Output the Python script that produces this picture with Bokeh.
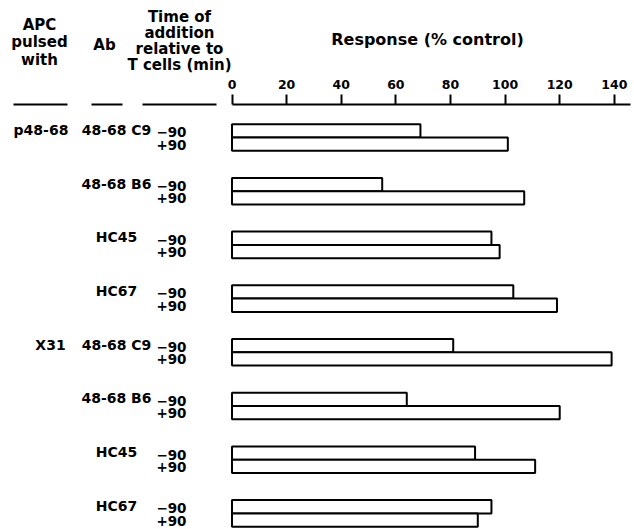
from bokeh.plotting import figure
from bokeh.models import Range1d, FixedTicker, ColumnDataSource, LinearAxis
from bokeh.core.properties import value
from bokeh.embed import file_html
from bokeh.resources import INLINE

# ---------------- data ----------------
apc_labels = ["p48-68", "X31"]
ab_labels = ["48-68 C9", "48-68 B6", "HC45", "HC67"]
time_labels = ["\u221290", "+90"]
resp_minus90 = [69, 55, 95, 103, 81, 64, 89, 95]
resp_plus90 = [101, 107, 98, 119, 139, 120, 111, 90]
ticks = [0, 20, 40, 60, 80, 100, 120, 140]
header_apc = ["APC", "pulsed", "with"]
header_ab = ["Ab"]
header_time = ["Time of", "addition", "relative to", "T cells (min)"]
axis_title = "Response (% control)"

# ---------------- layout helpers (page pixels -> data) ----------------
PXU = 2.731      # pixels per response unit
X0 = 231.5       # page x of response 0
SP = 53.7        # pixels between row pairs
MID0 = 140.0     # page y of first pair's centre line
SHIFT = 3        # move the whole drawing up a little so nothing is cut at the bottom
def dx(px):
    return (px - X0) / PXU
def dy(py):
    return (py - MID0) / SP

FONT = "DejaVu Sans"
W, H = 634, 529
AXIS_Y = 107
BH = 13.3 / SP
OFF = BH / 2
n = len(resp_minus90)

p = figure(width=W, height=H, output_backend="svg", toolbar_location=None,
           x_range=Range1d(dx(0), dx(W)), y_range=Range1d(dy(H + SHIFT), dy(SHIFT)),
           x_axis_location=None, y_axis_location=None, title=None,
           min_border_left=0, min_border_right=0, min_border_top=0, min_border_bottom=0)
p.xgrid.visible = False
p.ygrid.visible = False
p.outline_line_color = None
p.border_fill_color = "white"

ax = LinearAxis(fixed_location=dy(AXIS_Y), ticker=FixedTicker(ticks=ticks), bounds=(0, 146))
ax.axis_line_width = 2
ax.axis_line_color = "black"
ax.major_tick_line_width = 2
ax.major_tick_line_color = "black"
ax.major_tick_out = 10
ax.major_tick_in = 0
ax.minor_tick_out = 0
ax.minor_tick_in = 0
ax.major_label_text_font = FONT
ax.major_label_text_font_style = "bold"
ax.major_label_text_font_size = "12.5px"
ax.major_label_text_color = "black"
ax.major_label_standoff = 6
p.add_layout(ax, "above")

# ---------------- bars ----------------
ys, vals = [], []
for i in range(n):
    ys += [i - OFF, i + OFF]
    vals += [resp_minus90[i], resp_plus90[i]]
bars = ColumnDataSource(dict(y=ys, right=vals))
p.hbar(y="y", left=0, right="right", height=BH, source=bars,
       fill_color="white", line_color="black", line_width=2)

# ---------------- row labels ----------------
tx, ty, tt = [], [], []
for i in range(n):
    tt += [time_labels[0], time_labels[1]]
    tx += [dx(186), dx(186)]
    ty += [i - OFF + 1.5 / SP, i + OFF + 0.5 / SP]
p.text(x=tx, y=ty, text=tt, text_font=value(FONT), text_font_style="bold",
       text_font_size="13.5px", text_align="right", text_baseline="middle", text_color="black")

abx, aby, abt = [], [], []
for i in range(n):
    abt.append(ab_labels[i % len(ab_labels)])
    abx.append(dx(116))
    aby.append(i - OFF - 1 / SP)
p.text(x=abx, y=aby, text=abt, text_font=value(FONT), text_font_style="bold",
       text_font_size="14px", text_align="center", text_baseline="middle", text_color="black")

apc_x = [dx(40.5), dx(50)]
apc_y = [0 - OFF - 1 / SP, 4 - OFF - 1 / SP]
p.text(x=apc_x, y=apc_y, text=apc_labels, text_font=value(FONT), text_font_style="bold",
       text_font_size="14px", text_align="center", text_baseline="middle", text_color="black")

# ---------------- headers ----------------
hx, hy, ht = [], [], []
for lines, px, pys in [(header_apc, 39, [27.3, 44, 62]),
                       (header_ab, 104, [47.5]),
                       (header_time, 179, [19, 35, 51, 67.5])]:
    for t, py in zip(lines, pys):
        ht.append(t)
        hx.append(dx(px))
        hy.append(dy(py))
p.text(x=hx, y=hy, text=ht, text_font=value(FONT), text_font_style="bold",
       text_font_size="15px", text_align="center", text_baseline="middle", text_color="black")
p.text(x=[dx(427)], y=[dy(41.5)], text=[axis_title], text_font=value(FONT), text_font_style="bold",
       text_font_size="16px", text_align="center", text_baseline="middle", text_color="black")

uy = dy(AXIS_Y)
p.segment(x0=[dx(13), dx(91), dx(142)], y0=[uy] * 3,
          x1=[dx(67), dx(122), dx(216)], y1=[uy] * 3,
          line_color="black", line_width=2)

open("out.html", "w").write(file_html(p, INLINE))
